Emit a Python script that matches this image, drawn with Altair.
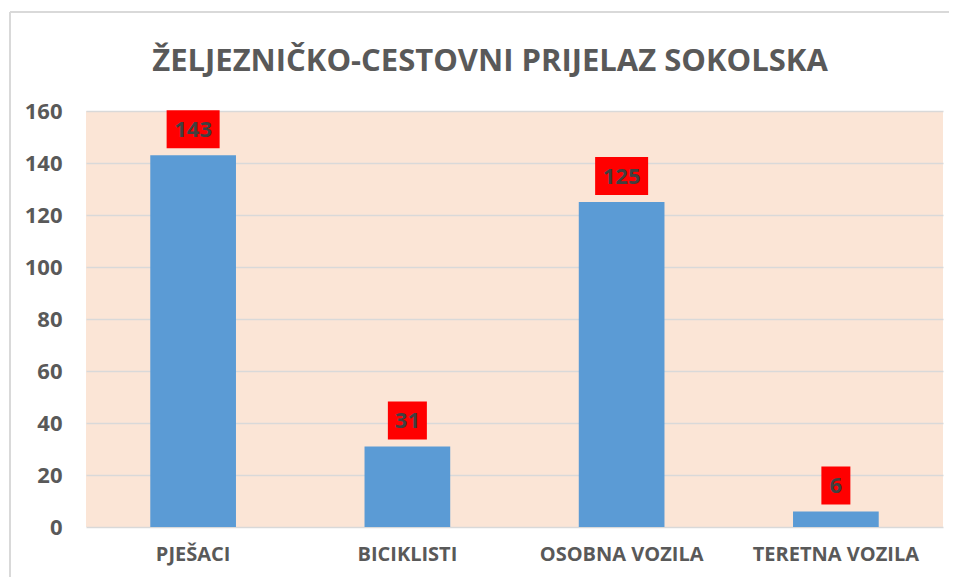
import altair as alt
import pandas as pd

categories = ["PJEŠACI", "BICIKLISTI", "OSOBNA VOZILA", "TERETNA VOZILA"]
values = [143, 31, 125, 6]
y_ticks = [0, 20, 40, 60, 80, 100, 120, 140, 160]
title_text = "ŽELJEZNIČKO-CESTOVNI PRIJELAZ SOKOLSKA"

df = pd.DataFrame({"kategorija": categories, "broj": values})
df["znamenke"] = df["broj"].astype(str).str.len()

W, H = 857, 416
FONT = "Open Sans"
GREY = "#595959"

x_enc = alt.X("kategorija:N", sort=categories,
              scale=alt.Scale(paddingInner=0.6, paddingOuter=0.3),
              axis=alt.Axis(title=None, labelAngle=0, labelFont=FONT, labelFontSize=20,
                            labelFontWeight="bold", labelColor=GREY, labelPadding=17,
                            ticks=False, domain=False, grid=False))
y_scale = alt.Scale(domain=[0, 160], nice=False)

base = alt.Chart(df)

bars = base.mark_bar(color="#5B9BD5").encode(
    x=x_enc,
    y=alt.Y("broj:Q", scale=y_scale,
            axis=alt.Axis(title=None, values=y_ticks, labelFont=FONT, labelFontSize=22,
                          labelFontWeight="bold", labelColor=GREY, labelPadding=24,
                          ticks=False, domain=False, gridColor="#D9D9D9", gridWidth=1.5)),
)

paths = [
    "M-0.547,-0.717L0.547,-0.717L0.547,0.717L-0.547,0.717Z",
    "M-0.736,-0.717L0.736,-0.717L0.736,0.717L-0.736,0.717Z",
    "M-1,-0.717L1,-0.717L1,0.717L-1,0.717Z",
]

boxes = base.mark_point(filled=True, color="#FF0000", opacity=1, size=2809,
                        strokeWidth=0, yOffset=-26).encode(
    x=alt.X("kategorija:N", sort=categories),
    y=alt.Y("broj:Q", scale=y_scale),
    shape=alt.Shape("znamenke:O", scale=alt.Scale(domain=[1, 2, 3], range=paths), legend=None),
)

labels = base.mark_text(font=FONT, fontSize=22, fontWeight="bold", color="#404040",
                        baseline="middle", yOffset=-25).encode(
    x=alt.X("kategorija:N", sort=categories),
    y=alt.Y("broj:Q", scale=y_scale),
    text="broj:Q",
)

title = alt.Chart(pd.DataFrame({"t": [title_text]})).mark_text(
    font=FONT, fontSize=31, fontWeight="bold", color=GREY, align="center",
    baseline="alphabetic").encode(
    x=alt.value(404), y=alt.value(-40), text="t:N")

border_left = alt.Chart(df).mark_rule(color="#D9D9D9", strokeWidth=2).encode(
    x=alt.value(-76), y=alt.value(-99), y2=alt.value(H + 60))
border_top = alt.Chart(df).mark_rule(color="#D9D9D9", strokeWidth=2).encode(
    x=alt.value(-76), x2=alt.value(W + 20), y=alt.value(-99))

chart = alt.layer(bars, boxes, labels, title, border_left, border_top).properties(
    width=W, height=H,
    autosize=alt.AutoSizeParams(type="none"),
    padding={"left": 78, "top": 103, "right": 6, "bottom": 50},
).configure_view(fill="#FBE5D6", stroke=None)

chart.save("out.html", embed_options={"renderer": "svg", "actions": False})
